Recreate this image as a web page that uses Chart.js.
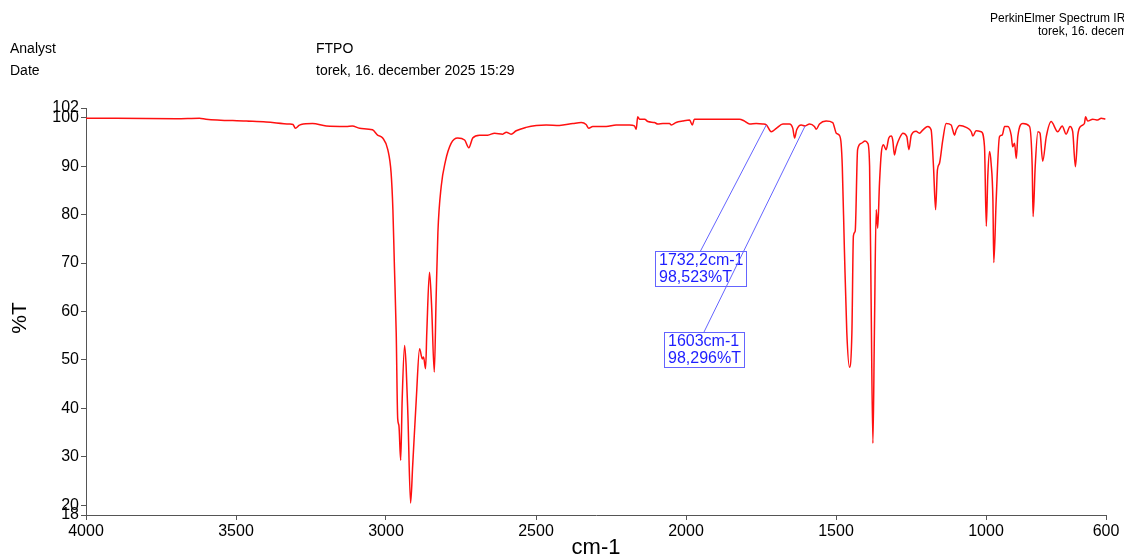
<!DOCTYPE html>
<html>
<head>
<meta charset="utf-8">
<script src="https://cdn.jsdelivr.net/npm/chart.js@4.4.0/dist/chart.umd.min.js"></script>
<style>
  html, body { margin: 0; padding: 0; background: #fff; }
  canvas { display: block; }
</style>
</head>
<body>
<canvas id="spectrum" width="1124" height="559"></canvas>
<script>
// IR spectrum, wavenumber (cm-1) against transmittance (%T)
const wavenumber = [
  4000, 3700, 3622, 3600, 3466, 3400, 3322, 3310, 3302, 3290, 3283, 3245, 3199, 3133, 3112, 3088,
  3045, 3028, 3011, 2994, 2983, 2977, 2972, 2966, 2961, 2957, 2951, 2946, 2938, 2933, 2927, 2918,
  2911, 2899, 2888, 2879, 2875, 2868, 2864, 2855, 2848, 2839, 2833, 2827, 2816, 2802, 2783, 2761,
  2738, 2724, 2711, 2688, 2661, 2638, 2611, 2599, 2583, 2566, 2533, 2499, 2466, 2422, 2377, 2349,
  2333, 2324, 2311, 2266, 2233, 2188, 2172, 2166, 2161, 2155, 2138, 2127, 2105, 2094, 2077, 2055,
  2049, 2033, 2011, 1988, 1979, 1972, 1955, 1877, 1822, 1805, 1788, 1766, 1744, 1732.2, 1716, 1699,
  1677, 1655, 1644, 1638, 1631, 1616, 1603, 1588, 1572, 1566, 1555, 1533, 1511, 1499, 1488, 1483,
  1479, 1472, 1464, 1455, 1447, 1442, 1436, 1428, 1416, 1403, 1394, 1388, 1383, 1377, 1372, 1366,
  1361, 1355, 1349, 1342, 1333, 1324, 1316, 1311, 1305, 1299, 1288, 1277, 1264, 1257, 1249, 1233,
  1222, 1210, 1194, 1183, 1175, 1168, 1162, 1155, 1144, 1133, 1116, 1111, 1105, 1099, 1088, 1066,
  1049, 1044, 1033, 1016, 1005, 999, 994, 988, 983, 977, 974, 966, 955, 946, 938, 927,
  916, 911, 905, 899, 894, 877, 855, 846, 843, 836, 827, 820, 811, 799, 783, 761,
  746, 733, 720, 711, 702, 694, 683, 672, 668, 661, 644, 628, 616, 602
];
const transmittance = [
  99.9, 99.8, 99.9, 99.7, 99.3, 99.1, 98.7, 98.6, 97.8, 98.4, 98.6, 98.8, 98.3, 98.2, 98.3, 97.8,
  97.5, 96.4, 95.8, 93.4, 88.6, 81.0, 69.4, 55.7, 37.9, 36.5, 29.3, 42.0, 53.0, 48.9, 38.6, 20.5,
  28.3, 42.0, 52.3, 50.2, 50.6, 48.2, 55.7, 68.1, 61.2, 47.5, 62.6, 76.3, 85.8, 91.0, 94.7, 95.8,
  95.4, 93.8, 95.8, 96.4, 96.4, 96.8, 96.6, 97.0, 96.6, 97.3, 98.0, 98.4, 98.5, 98.4, 98.8, 99.0,
  98.6, 97.8, 98.2, 98.2, 98.5, 98.5, 98.3, 97.6, 100.2, 99.7, 99.7, 99.2, 99.0, 98.7, 98.8, 98.8,
  98.5, 99.0, 99.3, 99.5, 98.5, 99.7, 99.7, 99.7, 99.7, 99.3, 98.7, 98.8, 98.7, 98.523, 97.1, 97.8,
  98.7, 98.7, 97.8, 95.8, 97.5, 98.5, 98.296, 98.7, 98.2, 97.6, 98.7, 99.3, 99.0, 96.8, 96.3, 94.7,
  89.9, 72.8, 55.7, 48.5, 55.7, 75.6, 76.6, 93.4, 94.7, 95.2, 94.7, 89.9, 62.6, 32.8, 55.7, 81.0,
  77.2, 86.5, 92.7, 94.4, 93.4, 95.8, 96.2, 95.4, 92.3, 94.0, 95.8, 96.8, 96.1, 93.4, 96.4, 97.2,
  96.8, 97.5, 98.2, 97.5, 89.9, 81.0, 89.2, 90.6, 95.4, 98.8, 98.5, 97.5, 96.4, 97.5, 98.4, 98.0,
  97.1, 96.2, 97.3, 97.1, 94.0, 77.6, 87.9, 93.0, 90.6, 83.1, 70.1, 83.1, 96.1, 96.4, 98.2, 98.2,
  96.4, 94.0, 94.7, 91.6, 96.1, 98.8, 98.2, 89.9, 79.6, 89.9, 97.1, 96.8, 91.0, 96.1, 99.2, 97.1,
  98.3, 96.6, 98.2, 97.1, 89.9, 96.4, 98.3, 98.8, 100.2, 99.3, 99.7, 99.5, 99.9, 99.7
];
const xTicks = [4000, 3500, 3000, 2500, 2000, 1500, 1000, 600];
const yTicks = [102, 100, 90, 80, 70, 60, 50, 40, 30, 20, 18];

// marked peaks
const peakWn = [1732.2, 1603];
const peakT = [98.523, 98.296];
const peakLabels = [["1732,2cm-1", "98,523%T"], ["1603cm-1", "98,296%T"]];

const FONT = 'Arial, "Liberation Sans", sans-serif';

// header text, y axis title and the peak label boxes
const headerAndPeaks = {
  id: 'headerAndPeaks',
  afterDraw(chart, args, opts) {
    const ctx = chart.ctx;
    const xs = chart.scales.x, ys = chart.scales.y;
    ctx.save();
    ctx.fillStyle = '#000';
    ctx.textAlign = 'left';
    ctx.textBaseline = 'middle';
    ctx.font = '14px ' + FONT;
    ctx.fillText('Analyst', 10, 49);
    ctx.fillText('Date', 10, 71);
    ctx.fillText('FTPO', 316, 49);
    ctx.fillText('torek, 16. december 2025 15:29', 316, 71);
    ctx.font = '12px ' + FONT;
    ctx.fillText('PerkinElmer Spectrum IR Version 10.7.2', 990, 19);
    ctx.fillText('torek, 16. december 2025 15:29', 1038, 32);

    ctx.save();
    ctx.translate(20, 318);
    ctx.rotate(-Math.PI / 2);
    ctx.textAlign = 'center';
    ctx.font = '21px ' + FONT;
    ctx.fillText('%T', 0, 0);
    ctx.restore();

    ctx.font = '16px ' + FONT;
    peakWn.forEach((w, i) => {
      const px = xs.getPixelForValue(w), py = ys.getPixelForValue(peakT[i]);
      const bx = Math.round(xs.getPixelForValue(opts.boxes[i].x));
      const by = Math.round(ys.getPixelForValue(opts.boxes[i].y));
      const lines = peakLabels[i];
      const tw = Math.max(...lines.map(s => ctx.measureText(s).width));
      const bw = Math.round(tw + 7), bh = 35;
      ctx.strokeStyle = '#6464ff';
      ctx.lineWidth = 1;
      ctx.beginPath();
      ctx.moveTo(bx + bw / 2, by);
      ctx.lineTo(px, py);
      ctx.stroke();
      ctx.strokeRect(bx + 0.5, by + 0.5, bw, bh);
      ctx.fillStyle = '#1e1eff';
      ctx.fillText(lines[0], bx + 4, by + 10);
      ctx.fillText(lines[1], bx + 4, by + 27);
    });
    ctx.restore();
  }
};

new Chart('spectrum', {
  type: 'line',
  data: {
    datasets: [{
      data: wavenumber.map((w, i) => ({ x: w, y: transmittance[i] })),
      borderColor: '#ff1010',
      borderWidth: 1.5,
      pointRadius: 0,
      cubicInterpolationMode: 'monotone',
      fill: false
    }]
  },
  options: {
    responsive: false,
    animation: false,
    layout: { padding: { top: 108, right: 18, left: 0, bottom: 0 } },
    plugins: {
      legend: { display: false },
      tooltip: { enabled: false },
      headerAndPeaks: {
        boxes: [{ x: 2101.7, y: 72.4 }, { x: 2075, y: 55.8 }]
      }
    },
    scales: {
      x: {
        type: 'linear',
        reverse: true,
        min: 600,
        max: 4000,
        afterBuildTicks: s => { s.ticks = xTicks.map(v => ({ value: v })); },
        afterFit: s => { s.height = 44; },
        ticks: { autoSkip: false, maxRotation: 0, color: '#000', padding: 2, font: { family: FONT, size: 16 }, callback: v => String(v) },
        grid: { drawOnChartArea: false, tickLength: 5, color: '#555' },
        border: { color: '#555', width: 1 },
        title: { display: true, text: 'cm-1', color: '#000', padding: 0, font: { family: FONT, size: 22, lineHeight: 1 } }
      },
      y: {
        min: 18,
        max: 102,
        afterBuildTicks: s => { s.ticks = yTicks.map(v => ({ value: v })); },
        afterFit: s => { s.width = 86; },
        ticks: { autoSkip: false, color: '#000', padding: 2, font: { family: FONT, size: 16 }, callback: v => String(v) },
        grid: { drawOnChartArea: false, tickLength: 5, color: '#555' },
        border: { color: '#555', width: 1 }
      }
    }
  },
  plugins: [headerAndPeaks]
});
</script>
</body>
</html>
